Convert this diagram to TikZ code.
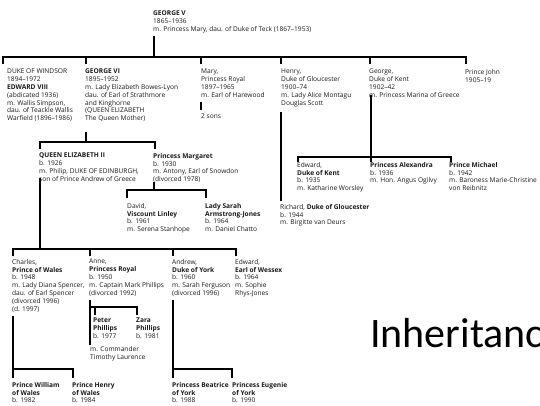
\documentclass[tikz,border=0pt]{standalone}
\usepackage{fontspec}
\setmainfont{Open Sans}
\newfontfamily\slidefont{Carlito}
\begin{document}
\begin{tikzpicture}[x=1pt,y=-1pt,
  person/.style={anchor=north west, inner sep=0pt, align=left,
    font=\fontsize{6.6}{7.8}\selectfont, text=black!90},
  link/.style={line width=1.8pt, draw=black}]
\useasboundingbox (0,0) rectangle (540,405);
\clip (0,0) rectangle (540,405);

% ---- George V
\node[person] (gv) at (153,11) {\textbf{GEORGE V}\\1865–1936\\m. Princess Mary, dau. of Duke of Teck (1867–1953)};

% ---- children of George V
\node[person] (windsor) at (7,69) {DUKE OF WINDSOR\\1894–1972\\\textbf{EDWARD VIII}\\(abdicated 1936)\\m. Wallis Simpson,\\dau. of Teackle Wallis\\Warfield (1896–1986)};
\node[person] (g6) at (85,69) {\textbf{GEORGE VI}\\1895–1952\\m. Lady Elizabeth Bowes-Lyon\\dau. of Earl of Strathmore\\and Kinghorne\\(QUEEN ELIZABETH\\The Queen Mother)};
\node[person] (mary) at (201,69) {Mary,\\Princess Royal\\1897–1965\\m. Earl of Harewood};
\node[person] (sons) at (201,114) {2 sons};
\node[person] (henry) at (281,69) {Henry,\\Duke of Gloucester\\1900–74\\m. Lady Alice Montagu\\Douglas Scott};
\node[person] (kent) at (369,69) {George,\\Duke of Kent\\1902–42\\m. Princess Marina of Greece};
\node[person] (john) at (465,69) {Prince John\\1905–19};

% ---- grandchildren
\node[person] (e2) at (39,153) {\textbf{QUEEN ELIZABETH II}\\b. 1926\\m. Philip, DUKE OF EDINBURGH,\\son of Prince Andrew of Greece};
\node[person] (margaret) at (153,153) {\textbf{Princess Margaret}\\b. 1930\\m. Antony, Earl of Snowdon\\(divorced 1978)};
\node[person] (david) at (127,203) {David,\\\textbf{Viscount Linley}\\b. 1961\\m. Serena Stanhope};
\node[person] (sarah) at (205,203) {\textbf{Lady Sarah}\\\textbf{Armstrong-Jones}\\b. 1964\\m. Daniel Chatto};
\node[person] (edkent) at (297,162) {Edward,\\\textbf{Duke of Kent}\\b. 1935\\m. Katharine Worsley};
\node[person] (alexandra) at (370,162) {\textbf{Princess Alexandra}\\b. 1936\\m. Hon. Angus Ogilvy};
\node[person] (michael) at (449,162) {\textbf{Prince Michael}\\b. 1942\\m. Baroness Marie-Christine\\von Reibnitz};
\node[person] (richard) at (280,204) {Richard, \textbf{Duke of Gloucester}\\b. 1944\\m. Birgitte van Deurs};

% ---- children of Elizabeth II
\node[person] (charles) at (12,259) {Charles,\\\textbf{Prince of Wales}\\b. 1948\\m. Lady Diana Spencer,\\dau. of Earl Spencer\\(divorced 1996)\\(d. 1997)};
\node[person] (anne) at (89,259) {Anne,\\\textbf{Princess Royal}\\b. 1950\\m. Captain Mark Phillips\\(divorced 1992)};
\node[person] (andrew) at (172,259) {Andrew,\\\textbf{Duke of York}\\b. 1960\\m. Sarah Ferguson\\(divorced 1996)};
\node[person] (edward) at (235,259) {Edward,\\\textbf{Earl of Wessex}\\b. 1964\\m. Sophie\\Rhys-Jones};
\node[person] (peter) at (93,318) {\textbf{Peter}\\\textbf{Phillips}\\b. 1977};
\node[person] (zara) at (136,318) {\textbf{Zara}\\\textbf{Phillips}\\b. 1981};
\node[person] (anne2) at (90,346) {m. Commander\\Timothy Laurence};
\node[person] (william) at (12,382) {\textbf{Prince William}\\\textbf{of Wales}\\b. 1982};
\node[person] (harry) at (72,382) {\textbf{Prince Henry}\\\textbf{of Wales}\\b. 1984};
\node[person] (beatrice) at (172,382) {\textbf{Princess Beatrice}\\\textbf{of York}\\b. 1988};
\node[person] (eugenie) at (232,382) {\textbf{Princess Eugenie}\\\textbf{of York}\\b. 1990};

% ---- junction points
\coordinate (gvbar) at (154,57);
\coordinate (g6bar) at (86,142);
\coordinate (e2bar) at (40,249);
\coordinate (pmbar) at (154,190);
\coordinate (gkbar) at (371,157);
\coordinate (chbar) at (13,369);
\coordinate (anbar) at (90,307);
\coordinate (adbar) at (173,369);

% ---- connectors
\draw[link] (154,36) -- (gvbar);
\draw[link] (3,64) |- (466,57) -- (466,64);
\foreach \x in {86,201,281,370} \draw[link] (\x,57) -- (\x,64);

\draw[link] (86,132) -- (g6bar);
\draw[link] (40,149) |- (155,142) -- (155,149);

\draw[link] (40,178) -- (e2bar);
\draw[link] (13,256) |- (236,249) -- (236,256);
\foreach \x in {90,173} \draw[link] (\x,249) -- (\x,256);

\draw[link] (154,182) -- (pmbar);
\draw[link] (127,198) |- (206,190) -- (206,198);

\draw[link] (201,102) -- (201,110);
\draw[link] (281,112) -- (281,201);

\draw[link] (371,95) -- (371,162);
\draw[link] (298,162) |- (451,157) -- (451,162);

\draw[link] (13,316) -- (13,378);
\draw[link] (chbar) -| (73,378);

\draw[link] (90,300) -- (90,345);
\draw[link] (anbar) -| (137,315);
\draw[link] (95,307) -- (95,315);

\draw[link] (173,300) -- (173,378);
\draw[link] (adbar) -| (232,378);

% ---- slide title
\node[anchor=base west, inner sep=0pt, font=\slidefont\fontsize{42}{46}\selectfont] (title) at (370,347) {Inheritance};
\end{tikzpicture}
\end{document}
